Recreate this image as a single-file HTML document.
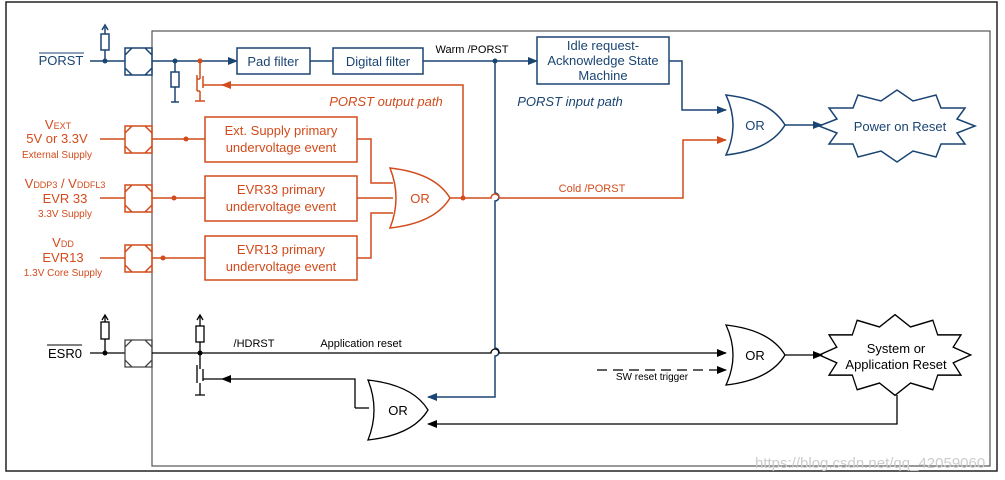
<!DOCTYPE html>
<html><head><meta charset="utf-8"><style>
body{margin:0;background:#fff}
svg{display:block;font-family:"Liberation Sans",sans-serif}
</style></head><body>
<svg width="1005" height="480" viewBox="0 0 1005 480">
<defs>
<marker id="ab" markerWidth="10" markerHeight="8" refX="9" refY="4" orient="auto" markerUnits="userSpaceOnUse"><path d="M0,0L10,4L0,8Z" fill="#1a4472"/></marker>
<marker id="ao" markerWidth="10" markerHeight="8" refX="9" refY="4" orient="auto" markerUnits="userSpaceOnUse"><path d="M0,0L10,4L0,8Z" fill="#d24b1c"/></marker>
<marker id="ak" markerWidth="10" markerHeight="8" refX="9" refY="4" orient="auto" markerUnits="userSpaceOnUse"><path d="M0,0L10,4L0,8Z" fill="#000"/></marker>
<polygon id="star" points="78,0 60,7 68,18 44,18 39,31 16,25 0,36 -16,25 -39,31 -44,18 -68,18 -60,7 -78,0 -60,-7 -68,-18 -44,-18 -39,-31 -16,-25 0,-36 16,-25 39,-31 44,-18 68,-18 60,-7"/>
<path id="oct" d="M0,0h27v27h-27zM7,0L0,7M20,0L27,7M0,20L7,27M27,20L20,27"/>
</defs>
<rect x="6" y="2" width="991" height="469" fill="none" stroke="#222" stroke-width="1.5"/>
<rect x="152" y="31" width="838" height="435" fill="none" stroke="#555" stroke-width="1.2"/>

<!-- PORST pin -->
<g stroke="#1a4472" fill="none" stroke-width="1.5">
<line x1="90" y1="61" x2="125" y2="61"/>
<line x1="105" y1="61" x2="105" y2="27"/><rect x="101" y="34" width="8" height="16" fill="#fff"/>
<path d="M102,30L105,25L108,30"/>
<use href="#oct" x="125" y="48"/>
<line x1="152" y1="61" x2="237" y2="61" marker-end="url(#ab)"/>
<line x1="175" y1="61" x2="175" y2="102"/><rect x="171" y="72" width="8" height="15" fill="#fff"/><path d="M171,102h8"/>
<rect x="237" y="48" width="73" height="26"/>
<line x1="310" y1="61" x2="333" y2="61"/>
<rect x="333" y="48" width="90" height="26"/>
<line x1="423" y1="61" x2="537" y2="61" marker-end="url(#ab)"/>
<rect x="537" y="37" width="132" height="47"/>
<path d="M669,61h13v49h44" marker-end="url(#ab)"/>
<path d="M495,61V193a4,4 0 0 1 0,8V348a4,4 0 0 1 0,8V397H428" marker-end="url(#ab)"/>
<path d="M726,95Q740,125 726,155Q770,150 785,125Q770,100 726,95Z"/>
<line x1="785" y1="125" x2="822" y2="125" marker-end="url(#ab)"/>
<use href="#star" transform="translate(897,126)"/>
</g>
<circle cx="105" cy="61" r="2.5" fill="#1a4472"/><circle cx="175" cy="61" r="2.5" fill="#1a4472"/><circle cx="495" cy="61" r="2.5" fill="#1a4472"/>
<g fill="#1a4472" font-size="13" text-anchor="middle">
<text x="61" y="65">PORST</text>
<text x="273" y="66">Pad filter</text>
<text x="378" y="66">Digital filter</text>
<text x="603" y="50">Idle request-</text>
<text x="603" y="65">Acknowledge State</text>
<text x="603" y="80">Machine</text>
<text x="755" y="130">OR</text>
<text x="900" y="131">Power on Reset</text>
<text x="570" y="106" font-style="italic">PORST input path</text>
<text x="472" y="53" font-size="11" fill="#000">Warm /PORST</text>
</g>
<line x1="39" y1="53" x2="84" y2="53" stroke="#1a4472"/>

<!-- orange -->
<g stroke="#d24b1c" fill="none" stroke-width="1.5">
<path d="M200,61v18M200,79h-3M197,75v16M200,91v10M197,91h3M203,76v12M203,85h20"/>
<path d="M195,101h10"/>
<path d="M463,198V85H222" marker-end="url(#ao)"/>
<path d="M100,139h25M100,198h25M100,258h25"/>
<use href="#oct" x="125" y="126"/><use href="#oct" x="125" y="185"/><use href="#oct" x="125" y="245"/>
<path d="M152,139h53M152,198h53M152,258h53"/>
<rect x="205" y="117" width="152" height="45"/>
<rect x="205" y="176" width="152" height="45"/>
<rect x="205" y="236" width="152" height="44"/>
<path d="M357,139h14v44h22M357,198h36M357,258h14v-45h22"/>
<path d="M390,168Q402,198 390,228Q435,223 450,198Q435,173 390,168Z"/>
<path d="M450,198h41a4,4 0 0 1 8,0h184v-58h43" marker-end="url(#ao)"/>
</g>
<g fill="#d24b1c"><circle cx="200" cy="61" r="2.5"/><circle cx="186" cy="139" r="2.5"/><circle cx="174" cy="198" r="2.5"/><circle cx="163" cy="258" r="2.5"/><circle cx="463" cy="198" r="2.5"/></g>
<g fill="#d24b1c" font-size="13" text-anchor="middle">
<text x="386" y="106" font-style="italic">PORST output path</text>
<text x="281" y="135">Ext. Supply  primary</text><text x="281" y="152">undervoltage event</text>
<text x="281" y="194">EVR33  primary</text><text x="281" y="211">undervoltage event</text>
<text x="281" y="254">EVR13  primary</text><text x="281" y="271">undervoltage event</text>
<text x="420" y="203">OR</text>
<text x="592" y="192" font-size="11">Cold /PORST</text>
<text x="58" y="129">V<tspan font-size="9">EXT</tspan></text>
<text x="57" y="143">5V or 3.3V</text>
<text x="57" y="158" font-size="10">External Supply</text>
<text x="65" y="188">V<tspan font-size="9">DDP3</tspan> / V<tspan font-size="9">DDFL3</tspan></text>
<text x="65" y="203">EVR 33</text>
<text x="65" y="217" font-size="10">3.3V Supply</text>
<text x="63" y="247">V<tspan font-size="9">DD</tspan></text>
<text x="63" y="262">EVR13</text>
<text x="63" y="276" font-size="10">1.3V Core Supply</text>
</g>

<!-- black -->
<g stroke="#000" fill="none" stroke-width="1.3">
<line x1="90" y1="353" x2="125" y2="353"/>
<line x1="105" y1="353" x2="105" y2="316"/><rect x="101" y="322" width="8" height="17" fill="#fff"/><path d="M102,320L105,315L108,320"/>
<use href="#oct" x="125" y="340" stroke="#444"/>
<path d="M152,353H491a4,4 0 0 1 8,0H726" marker-end="url(#ak)"/>
<line x1="200" y1="353" x2="200" y2="316"/><rect x="196" y="326" width="8" height="16" fill="#fff"/><path d="M197,320L200,315L203,320"/>
<path d="M200,353v16M197,365v18M200,383v12M203,369v12M203,379h19M195,395h10"/>
<path d="M355,408V379H222" marker-end="url(#ak)"/>
<path d="M355,408h14"/>
<path d="M368,380Q380,410 368,440Q413,435 428,410Q413,385 368,380Z"/>
<path d="M597,370h129" stroke-dasharray="10,6" marker-end="url(#ak)"/>
<path d="M726,325Q740,355 726,385Q770,380 785,355Q770,330 726,325Z"/>
<line x1="785" y1="355" x2="822" y2="355" marker-end="url(#ak)"/>
<use href="#star" transform="translate(895,355) scale(0.97,1.12)"/>
<path d="M897,395V424H428" marker-end="url(#ak)"/>
</g>
<circle cx="105" cy="353" r="2.5"/><circle cx="200" cy="353" r="2.5"/>
<line x1="47" y1="345" x2="82" y2="345" stroke="#000"/>
<g font-size="13" text-anchor="middle">
<text x="65" y="358">ESR0</text>
<text x="755" y="360">OR</text>
<text x="398" y="415">OR</text>
<text x="896" y="353">System or</text>
<text x="896" y="369">Application Reset</text>
<text x="254" y="347" font-size="11">/HDRST</text>
<text x="361" y="347" font-size="11">Application reset</text>
<text x="652" y="380" font-size="10">SW reset trigger</text>
</g>
<text x="755" y="468" font-size="15" fill="#ccc">https://blog.csdn.net/qq_42059060</text>
</svg>
</body></html>
